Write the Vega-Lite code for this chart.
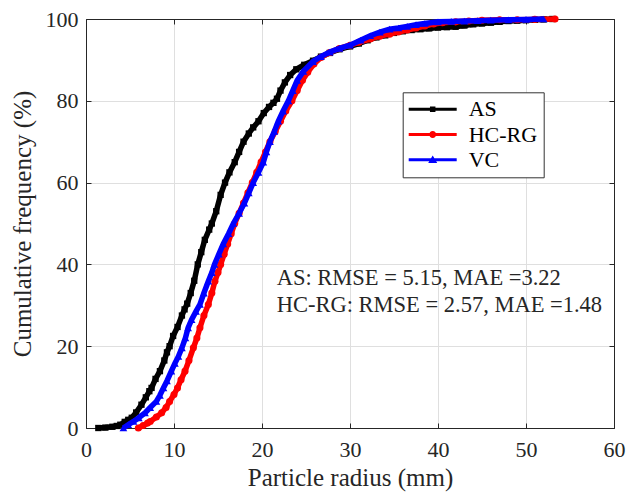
{
  "$schema": "https://vega.github.io/schema/vega-lite/v6.json",
  "width": 528,
  "height": 409,
  "autosize": {"type": "none"},
  "padding": {"left": 86, "top": 19, "right": 13, "bottom": 64},
  "background": "white",
  "config": {
    "view": {"stroke": "#262626", "strokeWidth": 1},
    "font": "Liberation Serif",
    "legend": {"labelFont": "Liberation Serif", "labelFontWeight": "normal", "labelFontSize": 22, "labelColor": "#000000"},
    "axis": {
      "domainColor": "#262626", "tickColor": "#262626", "labelColor": "#262626", "titleColor": "#262626",
      "gridColor": "#dfdfdf", "gridWidth": 1,
      "labelFont": "Liberation Serif", "titleFont": "Liberation Serif",
      "labelFontSize": 22, "titleFontSize": 25, "titleFontWeight": "normal",
      "tickSize": -5, "labelFlush": false, "labelOverlap": false
    }
  },
  "data": {"values": [
    {"series":"AS","x":1.4,"y":0},{"series":"AS","x":2.2,"y":0.1},{"series":"AS","x":3.0,"y":0.3},{"series":"AS","x":3.5,"y":0.5},{"series":"AS","x":3.9,"y":0.8},{"series":"AS","x":4.4,"y":1.5},{"series":"AS","x":4.8,"y":2},{"series":"AS","x":5.2,"y":2.5},{"series":"AS","x":5.7,"y":3.8},{"series":"AS","x":6.3,"y":5.7},{"series":"AS","x":6.8,"y":7.5},{"series":"AS","x":7.2,"y":9},{"series":"AS","x":7.45,"y":9.8},{"series":"AS","x":7.9,"y":12},{"series":"AS","x":8.4,"y":13.9},{"series":"AS","x":8.9,"y":16.5},{"series":"AS","x":9.2,"y":18.5},{"series":"AS","x":9.5,"y":20},{"series":"AS","x":9.9,"y":22.5},{"series":"AS","x":10.4,"y":24.7},{"series":"AS","x":10.9,"y":27.5},{"series":"AS","x":11.2,"y":29},{"series":"AS","x":11.5,"y":30.4},{"series":"AS","x":11.9,"y":33},{"series":"AS","x":12.3,"y":36},{"series":"AS","x":12.7,"y":40},{"series":"AS","x":13.1,"y":43},{"series":"AS","x":13.5,"y":46},{"series":"AS","x":14.0,"y":48.5},{"series":"AS","x":14.3,"y":50},{"series":"AS","x":14.8,"y":53},{"series":"AS","x":15.3,"y":57},{"series":"AS","x":15.8,"y":60},{"series":"AS","x":16.3,"y":62.5},{"series":"AS","x":16.9,"y":65},{"series":"AS","x":17.4,"y":67.5},{"series":"AS","x":17.9,"y":70},{"series":"AS","x":18.5,"y":72},{"series":"AS","x":19.0,"y":73.5},{"series":"AS","x":19.6,"y":75},{"series":"AS","x":20.2,"y":77},{"series":"AS","x":20.8,"y":78.5},{"series":"AS","x":21.3,"y":79.5},{"series":"AS","x":21.7,"y":80.5},{"series":"AS","x":22.1,"y":82.5},{"series":"AS","x":22.6,"y":84.5},{"series":"AS","x":23.2,"y":86.3},{"series":"AS","x":23.9,"y":87.7},{"series":"AS","x":24.8,"y":88.8},{"series":"AS","x":25.8,"y":89.8},{"series":"AS","x":26.7,"y":90.8},{"series":"AS","x":27.7,"y":91.7},{"series":"AS","x":28.8,"y":92.6},{"series":"AS","x":30.0,"y":93.3},{"series":"AS","x":31.0,"y":94},{"series":"AS","x":32.0,"y":94.8},{"series":"AS","x":33.0,"y":95.5},{"series":"AS","x":34.0,"y":96},{"series":"AS","x":35.0,"y":96.6},{"series":"AS","x":36.0,"y":97},{"series":"AS","x":37.0,"y":97.3},{"series":"AS","x":38.0,"y":97.5},{"series":"AS","x":39.0,"y":97.7},{"series":"AS","x":40.0,"y":97.9},{"series":"AS","x":41.0,"y":98},{"series":"AS","x":42.0,"y":98.1},{"series":"AS","x":43.0,"y":98.4},{"series":"AS","x":44.0,"y":98.7},{"series":"AS","x":45.0,"y":98.9},{"series":"AS","x":46.0,"y":99.1},{"series":"AS","x":47.0,"y":99.3},{"series":"AS","x":48.0,"y":99.5},{"series":"AS","x":49.0,"y":99.6},{"series":"AS","x":50.0,"y":99.7},{"series":"AS","x":51.0,"y":99.8},{"series":"AS","x":52.0,"y":99.9},{"series":"AS","x":53.0,"y":100},
    {"series":"HC-RG","x":5.95,"y":0},{"series":"HC-RG","x":6.5,"y":0.6},{"series":"HC-RG","x":7.0,"y":1.2},{"series":"HC-RG","x":7.3,"y":1.6},{"series":"HC-RG","x":8.0,"y":2.7},{"series":"HC-RG","x":8.6,"y":3.7},{"series":"HC-RG","x":9.1,"y":5},{"series":"HC-RG","x":9.5,"y":6.5},{"series":"HC-RG","x":10.0,"y":8.2},{"series":"HC-RG","x":10.4,"y":9.8},{"series":"HC-RG","x":10.8,"y":11.8},{"series":"HC-RG","x":11.25,"y":13.9},{"series":"HC-RG","x":11.7,"y":16.5},{"series":"HC-RG","x":12.2,"y":19.6},{"series":"HC-RG","x":12.6,"y":22},{"series":"HC-RG","x":12.95,"y":24.5},{"series":"HC-RG","x":13.4,"y":27.5},{"series":"HC-RG","x":13.9,"y":30.2},{"series":"HC-RG","x":14.3,"y":33},{"series":"HC-RG","x":14.65,"y":35.9},{"series":"HC-RG","x":15.0,"y":38},{"series":"HC-RG","x":15.3,"y":40},{"series":"HC-RG","x":15.7,"y":42.5},{"series":"HC-RG","x":16.1,"y":45},{"series":"HC-RG","x":16.5,"y":47.5},{"series":"HC-RG","x":16.9,"y":50},{"series":"HC-RG","x":17.4,"y":52.5},{"series":"HC-RG","x":17.9,"y":55},{"series":"HC-RG","x":18.4,"y":57.5},{"series":"HC-RG","x":18.9,"y":60},{"series":"HC-RG","x":19.4,"y":62.5},{"series":"HC-RG","x":19.9,"y":65},{"series":"HC-RG","x":20.4,"y":67.5},{"series":"HC-RG","x":20.9,"y":70},{"series":"HC-RG","x":21.5,"y":72.5},{"series":"HC-RG","x":22.1,"y":75},{"series":"HC-RG","x":22.7,"y":77.5},{"series":"HC-RG","x":23.4,"y":80},{"series":"HC-RG","x":24.0,"y":82.5},{"series":"HC-RG","x":24.6,"y":85},{"series":"HC-RG","x":25.2,"y":87},{"series":"HC-RG","x":25.9,"y":89},{"series":"HC-RG","x":26.7,"y":90.6},{"series":"HC-RG","x":27.7,"y":91.8},{"series":"HC-RG","x":28.8,"y":92.8},{"series":"HC-RG","x":30.0,"y":93.6},{"series":"HC-RG","x":31.0,"y":94.3},{"series":"HC-RG","x":32.3,"y":95.1},{"series":"HC-RG","x":33.4,"y":95.8},{"series":"HC-RG","x":34.5,"y":96.3},{"series":"HC-RG","x":35.5,"y":96.8},{"series":"HC-RG","x":36.5,"y":97.3},{"series":"HC-RG","x":37.5,"y":97.8},{"series":"HC-RG","x":38.5,"y":98.3},{"series":"HC-RG","x":39.5,"y":98.8},{"series":"HC-RG","x":40.5,"y":99.1},{"series":"HC-RG","x":42.0,"y":99.3},{"series":"HC-RG","x":43.5,"y":99.5},{"series":"HC-RG","x":45.0,"y":99.7},{"series":"HC-RG","x":47.0,"y":99.8},{"series":"HC-RG","x":49.0,"y":99.8},{"series":"HC-RG","x":51.0,"y":99.9},{"series":"HC-RG","x":53.3,"y":100},
    {"series":"VC","x":4.25,"y":0},{"series":"VC","x":4.8,"y":0.8},{"series":"VC","x":5.4,"y":1.6},{"series":"VC","x":6.0,"y":2.5},{"series":"VC","x":6.7,"y":3.7},{"series":"VC","x":7.3,"y":5},{"series":"VC","x":8.0,"y":6.5},{"series":"VC","x":8.4,"y":8},{"series":"VC","x":8.8,"y":9.8},{"series":"VC","x":9.2,"y":11.5},{"series":"VC","x":9.7,"y":13.9},{"series":"VC","x":10.1,"y":15.8},{"series":"VC","x":10.5,"y":17.5},{"series":"VC","x":10.9,"y":19.6},{"series":"VC","x":11.3,"y":22},{"series":"VC","x":11.6,"y":24.5},{"series":"VC","x":12.0,"y":26.5},{"series":"VC","x":12.5,"y":28.5},{"series":"VC","x":12.95,"y":30.2},{"series":"VC","x":13.4,"y":33},{"series":"VC","x":13.9,"y":35.9},{"series":"VC","x":14.3,"y":38},{"series":"VC","x":14.6,"y":40},{"series":"VC","x":15.1,"y":42.5},{"series":"VC","x":15.6,"y":45},{"series":"VC","x":16.2,"y":47.5},{"series":"VC","x":16.75,"y":50},{"series":"VC","x":17.4,"y":52.5},{"series":"VC","x":18.0,"y":55},{"series":"VC","x":18.5,"y":57.5},{"series":"VC","x":19.0,"y":60},{"series":"VC","x":19.6,"y":62.5},{"series":"VC","x":20.15,"y":65},{"series":"VC","x":20.5,"y":67.5},{"series":"VC","x":20.9,"y":70},{"series":"VC","x":21.4,"y":72.5},{"series":"VC","x":21.85,"y":75},{"series":"VC","x":22.4,"y":77.5},{"series":"VC","x":23.0,"y":80},{"series":"VC","x":23.5,"y":82.5},{"series":"VC","x":24.0,"y":85},{"series":"VC","x":24.7,"y":87.2},{"series":"VC","x":25.8,"y":89.6},{"series":"VC","x":26.7,"y":90.8},{"series":"VC","x":27.7,"y":91.9},{"series":"VC","x":28.8,"y":92.8},{"series":"VC","x":30.0,"y":93.6},{"series":"VC","x":31.2,"y":94.8},{"series":"VC","x":32.3,"y":95.9},{"series":"VC","x":33.4,"y":96.8},{"series":"VC","x":34.5,"y":97.5},{"series":"VC","x":35.5,"y":97.8},{"series":"VC","x":36.5,"y":98.2},{"series":"VC","x":37.5,"y":98.6},{"series":"VC","x":38.5,"y":98.9},{"series":"VC","x":40.0,"y":99.3},{"series":"VC","x":41.5,"y":99.4},{"series":"VC","x":43.0,"y":99.5},{"series":"VC","x":44.5,"y":99.6},{"series":"VC","x":46.0,"y":99.7},{"series":"VC","x":48.0,"y":99.8},{"series":"VC","x":50.0,"y":99.9},{"series":"VC","x":52.0,"y":100}
  ]},
  "resolve": {"axis": {"x": "independent", "y": "independent"}},
  "layer": [
    {
      "transform": [{"filter": "datum.series === 'AS'"}],
      "mark": {"type": "line", "strokeWidth": 5.5, "color": "#000000", "point": {"filled": true, "shape": "square", "size": 40, "opacity": 1, "color": "#000000"}},
      "encoding": {
        "x": {"field": "x", "type": "quantitative", "scale": {"domain": [0, 60], "nice": false, "zero": false},
              "axis": {"values": [0,10,20,30,40,50,60], "grid": true, "title": "Particle radius (mm)", "labelPadding": 16, "titleX": 264, "titleY": 57, "titleBaseline": "alphabetic", "titleAnchor": "middle"}},
        "y": {"field": "y", "type": "quantitative", "scale": {"domain": [0, 100], "nice": false},
              "axis": {"values": [0,20,40,60,80,100], "grid": true, "title": "Cumulative frequency (%)", "labelPadding": 13, "titleX": -56, "titleY": 204.5, "titleBaseline": "alphabetic", "titleAngle": 270, "titleAlign": "center"}}
      }
    },
    {
      "transform": [{"filter": "datum.series === 'HC-RG'"}],
      "mark": {"type": "line", "strokeWidth": 5.5, "color": "#ff0000", "point": {"filled": true, "shape": "circle", "size": 50, "opacity": 1, "color": "#ff0000"}},
      "encoding": {
        "x": {"field": "x", "type": "quantitative", "axis": null},
        "y": {"field": "y", "type": "quantitative", "axis": null}
      }
    },
    {
      "transform": [{"filter": "datum.series === 'VC'"}],
      "mark": {"type": "line", "strokeWidth": 5.5, "color": "#0000ff", "point": {"filled": true, "shape": "triangle-up", "size": 60, "opacity": 1, "color": "#0000ff"}},
      "encoding": {
        "x": {"field": "x", "type": "quantitative", "axis": null},
        "y": {"field": "y", "type": "quantitative", "axis": null}
      }
    },
    {
      "data": {"values": [{}]},
      "mark": {"type": "text", "align": "left", "baseline": "alphabetic", "font": "Liberation Serif", "fontSize": 22.5, "color": "#262626", "lineHeight": 26.7,
               "text": ["AS: RMSE = 5.15, MAE =3.22", "HC-RG: RMSE = 2.57, MAE =1.48"]},
      "encoding": {
        "x": {"datum": 21.67, "type": "quantitative", "axis": null},
        "y": {"datum": 35.0, "type": "quantitative", "axis": null}
      }
    },
    {
      "transform": [{"filter": "datum.x < 0"}],
      "mark": {"type": "point", "filled": true, "opacity": 1},
      "encoding": {
        "x": {"field": "x", "type": "quantitative", "axis": {"orient": "top", "labels": false, "grid": false, "title": null, "values": [0,10,20,30,40,50,60]}},
        "y": {"field": "y", "type": "quantitative", "axis": {"orient": "right", "labels": false, "grid": false, "title": null, "values": [0,20,40,60,80,100]}},
        "color": {"field": "series", "type": "nominal",
                  "scale": {"domain": ["AS","HC-RG","VC"], "range": ["#000000","#ff0000","#0000ff"]},
                  "legend": {"title": null, "orient": "none", "legendX": 316.7, "legendY": 73.3, "labelFont": "Liberation Serif", "labelFontSize": 22, "labelFontWeight": "normal", "labelColor": "#000000", "symbolSize": 400, "symbolStrokeWidth": 0, "strokeColor": "#333333", "fillColor": "#ffffff", "padding": 6, "rowPadding": 3.2, "labelOffset": 25, "symbolOffset": 13}},
        "shape": {"field": "series", "type": "nominal",
                  "scale": {"domain": ["AS","HC-RG","VC"], "range": [
                    "M-2.4,-0.15H2.4V0.15H-2.4Z M-0.275,-0.275H0.275V0.275H-0.275Z",
                    "M-2.4,-0.15H2.4V0.15H-2.4Z M-0.35,0A0.35,0.35 0 1,1 0.35,0A0.35,0.35 0 1,1 -0.35,0Z",
                    "M-2.4,-0.15H2.4V0.15H-2.4Z M-0.45,0.32L0,-0.42L0.45,0.32Z"]},
                  "legend": {"title": null, "orient": "none", "legendX": 316.7, "legendY": 73.3, "labelFont": "Liberation Serif", "labelFontSize": 22, "labelFontWeight": "normal", "labelColor": "#000000", "symbolSize": 400, "symbolStrokeWidth": 0, "strokeColor": "#333333", "fillColor": "#ffffff", "padding": 6, "rowPadding": 3.2, "labelOffset": 25, "symbolOffset": 13}}
      }
    }
  ]
}
